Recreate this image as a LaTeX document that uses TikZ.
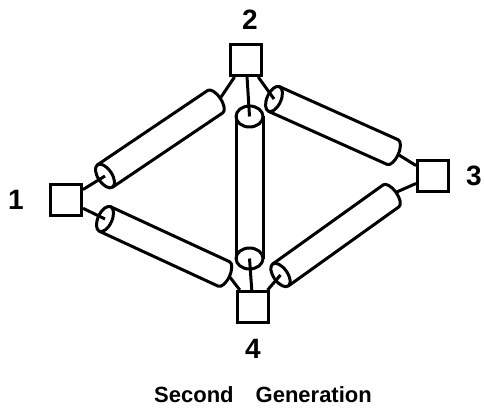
\documentclass[tikz,border=0pt]{standalone}
\usepackage{fontspec}
\setmainfont{Liberation Sans}
\usetikzlibrary{positioning, calc}

\tikzset{
    % slanted pipe: open end at the origin, closed end at distance #1
    pics/pipe/.style={code={
        \draw[wire] (0,0) ellipse [x radius=7, y radius=13.5];
        \draw[wire] (0,13.5) -- (#1,13.5) arc [start angle=90, end angle=-90, x radius=6, y radius=13.5] -- (0,-13.5);
        \coordinate (-near) at (0,0);
        \coordinate (-far) at (#1+6,0);
    }},
    % upright pipe, seen from above, length #1
    pics/column/.style={code={
        \draw[wire] (0,0) ellipse [x radius=13.5, y radius=10.5];
        \draw[wire] (0,-#1) ellipse [x radius=13.5, y radius=10.5];
        \draw[wire] (-13.5,0) -- (-13.5,-#1);
        \draw[wire] (13.5,0) -- (13.5,-#1);
        \coordinate (-top) at (0,0);
        \coordinate (-bottom) at (0,-#1);
    }}
}

\begin{document}
\begin{tikzpicture}[
        x=1pt, y=1pt,
        % Define styles
        wire/.style={line width=3pt, line join=round},
        site/.style={draw, line width=3pt, rectangle, minimum size=31pt, inner sep=0pt},
        num/.style={inner sep=0pt, font=\fontsize{28}{30}\selectfont\bfseries},
        caption/.style={inner sep=0pt, font=\fontsize{22}{24}\selectfont\bfseries}
    ]
    \useasboundingbox (0,0) rectangle (484,413);

    % --- Sites ---
    \node[site] (b1) at (66,213) {};
    \node[site] (b2) at (246,353) {};
    \node[site] (b3) at (433,237) {};
    \node[site] (b4) at (253,106) {};

    % Site numbers
    \node[num, left=25pt of b1] (n1) {1};
    \node[num, above=13pt of b2, xshift=4pt] (n2) {2};
    \node[num, right=16pt of b3] (n3) {3};
    \node[num, below=15pt of b4] (n4) {4};

    \node[caption, below=28pt of n4, xshift=10pt] (title) {Second\hspace{22pt}Generation};

    % --- Pipes ---
    \pic[rotate=34] (tA) at (105,237) {pipe=133};
    \pic[rotate=-24.8] (tB) at (105,194) {pipe=131};
    \pic[rotate=-24.1] (tC) at (274,314) {pipe=130};
    \pic[rotate=35.6] (tD) at (280.5,138) {pipe=136};
    \pic (col) at (249.5,296.5) {column=142};

    % --- Connecting Lines ---
    \draw[wire] (b1) -- (tA-near);
    \draw[wire] (tA-far) -- (b2);
    \draw[wire] (b1) -- (tB-near);
    \draw[wire] (tB-far) -- (b4);
    \draw[wire] (b2) -- (tC-near);
    \draw[wire] (tC-far) -- (b3);
    \draw[wire] (b4) -- (tD-near);
    \draw[wire] (tD-far) -- (b3);
    \draw[wire] (b2) -- (col-top);
    \draw[wire] (col-bottom) -- (b4);

\end{tikzpicture}
\end{document}
